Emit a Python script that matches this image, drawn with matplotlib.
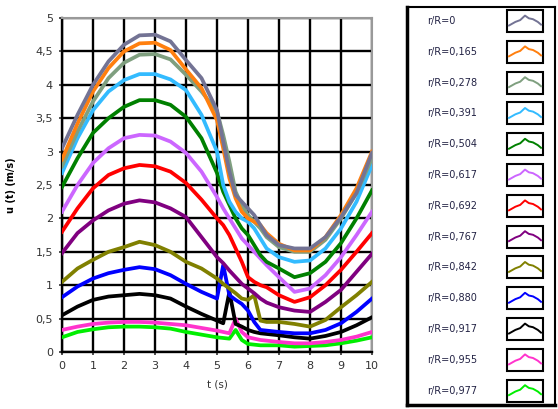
import matplotlib
matplotlib.use("Agg")
import matplotlib.pyplot as plt
from matplotlib.patches import Rectangle

plt.rcParams['font.family'] = ['DejaVu Sans']

# ---------------- data ----------------
t = [0, 0.5, 1, 1.5, 2, 2.5, 3, 3.5, 4, 4.5, 5, 5.2, 5.4, 5.6, 5.8, 6, 6.2, 6.4, 6.6,
     7, 7.5, 8, 8.5, 9, 9.5, 10]

labels = ["r/R=0", "r/R=0,165", "r/R=0,278", "r/R=0,391", "r/R=0,504", "r/R=0,617",
          "r/R=0,692", "r/R=0,767", "r/R=0,842", "r/R=0,880", "r/R=0,917", "r/R=0,955",
          "r/R=0,977"]

colors = ["#737394", "#ff7f0e", "#7f9f7f", "#33bbff", "#008000", "#cc66ff",
          "#ff0000", "#800080", "#808000", "#0000ff", "#000000", "#ff33cc", "#00ee00"]

u_000 = [3.05, 3.55, 4.0, 4.35, 4.6, 4.74, 4.75, 4.65, 4.37, 4.1, 3.62, 3.15, 2.7, 2.35, 2.25,
         2.15, 2.05, 1.9, 1.75, 1.6, 1.55, 1.55, 1.72, 2.02, 2.38, 2.98]
u_165 = [2.88, 3.42, 3.9, 4.25, 4.5, 4.62, 4.63, 4.52, 4.23, 3.95, 3.47, 3.05, 2.6, 2.3, 2.1,
         2.0, 1.95, 1.9, 1.78, 1.62, 1.52, 1.52, 1.72, 2.05, 2.45, 3.0]
u_278 = [2.78, 3.3, 3.75, 4.1, 4.33, 4.45, 4.46, 4.38, 4.15, 3.9, 3.6, 3.25, 2.85, 2.4, 2.2,
         2.05, 1.95, 1.85, 1.72, 1.57, 1.5, 1.5, 1.68, 2.0, 2.38, 2.9]
u_391 = [2.68, 3.2, 3.62, 3.9, 4.07, 4.16, 4.16, 4.08, 3.92, 3.55, 3.0, 2.5, 2.25, 2.1, 2.0,
         1.95, 1.85, 1.7, 1.55, 1.42, 1.35, 1.37, 1.55, 1.85, 2.25, 2.8]
u_504 = [2.47, 2.9, 3.28, 3.5, 3.67, 3.77, 3.77, 3.7, 3.52, 3.2, 2.68, 2.4, 2.2, 2.0, 1.85,
         1.75, 1.6, 1.45, 1.35, 1.25, 1.12, 1.18, 1.35, 1.63, 2.0, 2.42]
u_617 = [2.1, 2.5, 2.83, 3.05, 3.2, 3.25, 3.24, 3.15, 2.98, 2.7, 2.32, 2.15, 2.0, 1.85, 1.7,
         1.6, 1.5, 1.4, 1.3, 1.12, 0.9, 0.95, 1.15, 1.42, 1.75, 2.1]
u_692 = [1.8, 2.15, 2.45, 2.65, 2.75, 2.8, 2.78, 2.7, 2.53, 2.28, 2.0, 1.9, 1.75, 1.55, 1.35,
         1.12, 1.05, 1.0, 0.97, 0.85, 0.75, 0.82, 1.0, 1.23, 1.5, 1.78]
u_767 = [1.48, 1.78, 1.97, 2.12, 2.22, 2.27, 2.24, 2.15, 2.02, 1.72, 1.42, 1.33, 1.22, 1.12, 1.02,
         0.95, 0.88, 0.8, 0.74, 0.67, 0.62, 0.6, 0.75, 0.93, 1.2, 1.47]
u_842 = [1.05, 1.25, 1.38, 1.5, 1.57, 1.65, 1.6, 1.5, 1.35, 1.25, 1.1, 1.02, 0.95, 0.88, 0.8,
         0.78, 0.85, 0.47, 0.45, 0.45, 0.42, 0.38, 0.48, 0.67, 0.85, 1.05]
u_880 = [0.82, 0.98, 1.1, 1.18, 1.23, 1.27, 1.24, 1.15, 1.02, 0.9, 0.8, 1.3, 0.85, 0.78, 0.72,
         0.62, 0.45, 0.33, 0.32, 0.3, 0.28, 0.28, 0.33, 0.43, 0.6, 0.8]
u_917 = [0.55, 0.68, 0.78, 0.83, 0.85, 0.87, 0.85, 0.8, 0.68, 0.57, 0.47, 0.43, 0.9, 0.42, 0.38,
         0.33, 0.3, 0.28, 0.27, 0.25, 0.22, 0.2, 0.24, 0.3, 0.4, 0.52]
u_955 = [0.33, 0.38, 0.42, 0.44, 0.45, 0.45, 0.44, 0.42, 0.4, 0.36, 0.32, 0.3, 0.28, 0.5, 0.3,
         0.22, 0.2, 0.18, 0.17, 0.15, 0.13, 0.13, 0.15, 0.18, 0.23, 0.3]
u_977 = [0.22, 0.3, 0.34, 0.37, 0.38, 0.38, 0.37, 0.35, 0.3, 0.26, 0.22, 0.21, 0.2, 0.33, 0.18,
         0.12, 0.11, 0.1, 0.1, 0.1, 0.08, 0.09, 0.1, 0.13, 0.17, 0.22]

series = [u_000, u_165, u_278, u_391, u_504, u_617, u_692, u_767, u_842, u_880, u_917, u_955, u_977]

x_ticks = [0, 1, 2, 3, 4, 5, 6, 7, 8, 9, 10]
y_ticks = [0, 0.5, 1, 1.5, 2, 2.5, 3, 3.5, 4, 4.5, 5]
y_tick_labels = ["0", "0,5", "1", "1,5", "2", "2,5", "3", "3,5", "4", "4,5", "5"]

# ---------------- figure ----------------
W, H = 558, 409
fig = plt.figure(figsize=(W / 100, H / 100), dpi=100)
ax = fig.add_axes([62 / W, 1 - 352 / H, 310 / W, 334 / H])

for vals, c in reversed(list(zip(series, colors))):
    ax.plot(t, vals, color=c, lw=2.7, solid_joinstyle='round', zorder=3)

ax.set_xlim(0, 10)
ax.set_ylim(0, 5)
ax.set_xticks(x_ticks)
ax.set_yticks(y_ticks)
ax.set_yticklabels(y_tick_labels)
ax.grid(True, color='black', lw=1.7, zorder=1)
ax.set_axisbelow(True)
ax.tick_params(axis='both', labelsize=8, colors='#333333', length=2.5, width=1.2, pad=4)
for s in ['top', 'right']:
    ax.spines[s].set_color('#999999')
    ax.spines[s].set_linewidth(1.5)
for s in ['left', 'bottom']:
    ax.spines[s].set_color('black')
    ax.spines[s].set_linewidth(1.7)

ax.set_xlabel("t (s)", fontsize=7.5, color='#333333', labelpad=6)
ax.set_ylabel("u (t) (m/s)", fontsize=7, fontweight='bold', labelpad=14)

# ---------------- legend box ----------------
lax = fig.add_axes([407 / W, 1 - 405 / H, 148 / W, 398 / H])
lax.set_xlim(0, 148)
lax.set_ylim(398, 0)
lax.set_xticks([])
lax.set_yticks([])
for s in ['left', 'bottom']:
    lax.spines[s].set_linewidth(2.5)
for s in ['top', 'right']:
    lax.spines[s].set_linewidth(1.5)

icon_x = [0.0, 0.2, 0.35, 0.5, 0.62, 0.75, 0.9, 1.0]
icon_y = [0.25, 0.45, 0.55, 0.8, 0.65, 0.6, 0.45, 0.3]
row0, dy = 14, 30.8
bx, bw, bh = 100, 36, 22
for i, (lab, c) in enumerate(zip(labels, colors)):
    yc = row0 + i * dy
    lax.text(20, yc, lab, fontsize=7, color='#222244', va='center', ha='left')
    lax.add_patch(Rectangle((bx, yc - bh / 2), bw, bh, fill=False, ec='black', lw=1.5))
    xs = [bx + 2 + v * (bw - 4) for v in icon_x]
    ys = [yc + bh / 2 - 2 - v * (bh - 4) for v in icon_y]
    lax.plot(xs, ys, color=c, lw=1.4)

fig.savefig("out.png", dpi=100)
